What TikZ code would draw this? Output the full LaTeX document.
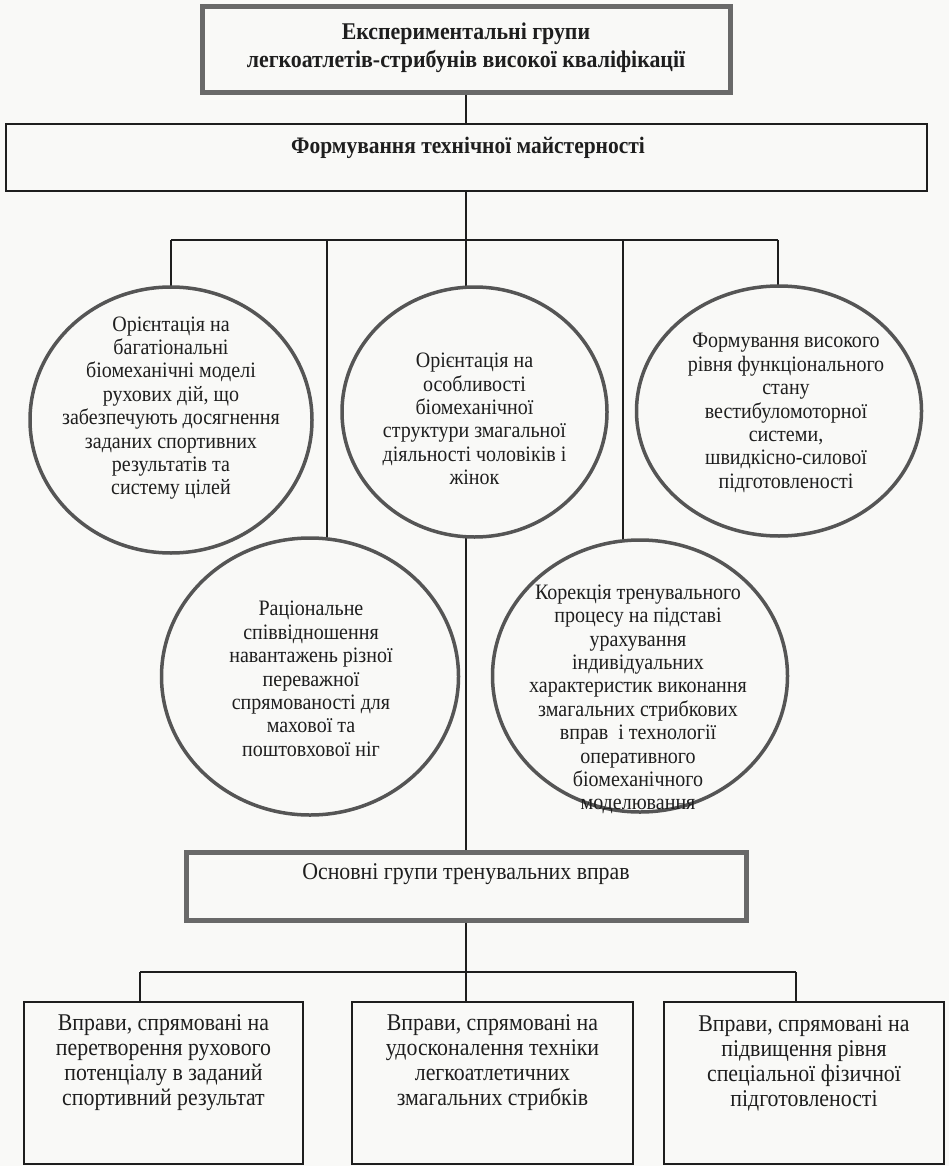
\documentclass[tikz,border=0pt]{standalone}
\usepackage{fontspec}
\setmainfont[FakeStretch=0.91]{Liberation Serif}
\usetikzlibrary{shapes.geometric}
\pgfdeclarelayer{bglayer}
\pgfdeclarelayer{background}
\pgfsetlayers{bglayer,background,main}
\definecolor{paper}{RGB}{249,249,247}
\definecolor{ink}{RGB}{30,30,30}
\definecolor{frame}{RGB}{105,105,105}
\definecolor{ovalc}{RGB}{85,85,85}
\tikzset{
  graybox/.style={draw=frame, line width=5pt, rectangle, inner sep=0pt},
  blackbox/.style={draw=ink, line width=2.8pt, rectangle, inner sep=0pt, fill=paper},
  oval/.style={ellipse, draw=ovalc, line width=3.5pt, fill=paper, inner sep=0pt},
  conn/.style={draw=ink, line width=2pt},
  txt/.style={align=center, text=ink, inner sep=0pt, font=\fontsize{22}{23.4}\selectfont},
  boxtxt/.style={align=center, text=ink, inner sep=0pt, font=\fontsize{24}{25}\selectfont},
  bold/.style={align=center, text=ink, inner sep=0pt, font=\fontsize{24}{28.5}\selectfont\bfseries}
}
\begin{document}
\begin{tikzpicture}[x=1pt,y=-1pt]
\begin{pgfonlayer}{bglayer}
\fill[paper] (0,0) rectangle (949,1166);
\end{pgfonlayer}
\useasboundingbox (0,0) rectangle (949,1166);

% boxes
\node[graybox, minimum width=528pt, minimum height=86pt] (top) at (466,50) {};
\node[bold] (toptxt) at (466,48) {Експериментальні групи\\легкоатлетів-стрибунів високої кваліфікації};

\node[blackbox, minimum width=921pt, minimum height=67pt] (second) at (466.5,157.5) {};
\node[bold, font=\fontsize{23.6}{25}\selectfont\bfseries] (sectxt) at (468,148) {Формування технічної майстерності};

% ellipses
\node[oval, minimum width=282pt, minimum height=266pt] (e1) at (171,420) {};
\node[txt] (t1) at (171,408) {Орієнтація на\\багатіональні\\біомеханічні моделі\\рухових дій, що\\забезпечують досягнення\\заданих спортивних\\результатів та\\систему цілей};

\node[oval, minimum width=265pt, minimum height=250pt] (e2) at (474.5,412) {};
\node[txt] (t2) at (474.5,419) {Орієнтація на\\особливості\\біомеханічної\\структури змагальної\\діяльності чоловіків і\\жінок};

\node[oval, minimum width=285pt, minimum height=250pt] (e3) at (779,411) {};
\node[txt] (t3) at (786,413) {Формування високого\\рівня функціонального\\стану\\вестибуломоторної\\системи,\\швидкісно-силової\\підготовленості};

\node[oval, minimum width=297pt, minimum height=277pt] (e4) at (310,676.5) {};
\node[txt] (t4) at (311,679) {Раціональне\\співвідношення\\навантажень різної\\переважної\\спрямованості для\\махової та\\поштовхової ніг};

\node[oval, minimum width=295pt, minimum height=272pt] (e5) at (640,676) {};
\node[txt] (t5) at (638,699.5) {Корекція тренувального\\процесу на підставі\\урахування\\індивідуальних\\характеристик виконання\\змагальних стрибкових\\вправ\ \ і технології\\оперативного\\біомеханічного\\моделювання};

% lower part
\node[graybox, minimum width=560pt, minimum height=68pt] (osn) at (466,886) {};
\node[boxtxt] (osntxt) at (466,874) {Основні групи тренувальних вправ};

\node[blackbox, minimum width=279pt, minimum height=162pt] (b1) at (163.5,1083) {};
\node[boxtxt] (bt1) at (163.5,1063) {Вправи, спрямовані на\\перетворення рухового\\потенціалу в заданий\\спортивний результат};
\node[blackbox, minimum width=281pt, minimum height=162pt] (b2) at (492.5,1083) {};
\node[boxtxt] (bt2) at (492.5,1063) {Вправи, спрямовані на\\удосконалення техніки\\легкоатлетичних\\змагальних стрибків};
\node[blackbox, minimum width=280pt, minimum height=162pt] (b3) at (804,1083) {};
\node[boxtxt] (bt3) at (804,1063) {Вправи, спрямовані на\\підвищення рівня\\спеціальної фізичної\\підготовленості};

% connectors
\coordinate (trunk) at (466,0);
\coordinate (busL) at (171,240);
\coordinate (busA) at (327,240);
\coordinate (busB) at (623,240);
\coordinate (busR) at (778,240);
\coordinate (bus2L) at (140,972);
\coordinate (bus2R) at (796,972);

\begin{pgfonlayer}{background}
\draw[conn] (top.south -| trunk) -- (second.north -| trunk);
\draw[conn] (second.south -| trunk) -- (osn.north -| trunk);
\draw[conn] (busL) -- (busR);
\draw[conn] (busL) -- (e1.center);
\draw[conn] (busA) -- (busA |- e4.center);
\draw[conn] (busB) -- (busB |- e5.center);
\draw[conn] (busR) -- (busR |- e3.center);
\draw[conn] (osn.south -| trunk) -- (bus2L -| trunk);
\draw[conn] (bus2L) -- (bus2R);
\draw[conn] (bus2L) -- (bus2L |- b1.north);
\draw[conn] (bus2L -| trunk) -- (b2.north -| trunk);
\draw[conn] (bus2R) -- (bus2R |- b3.north);
\end{pgfonlayer}
\end{tikzpicture}
\end{document}
